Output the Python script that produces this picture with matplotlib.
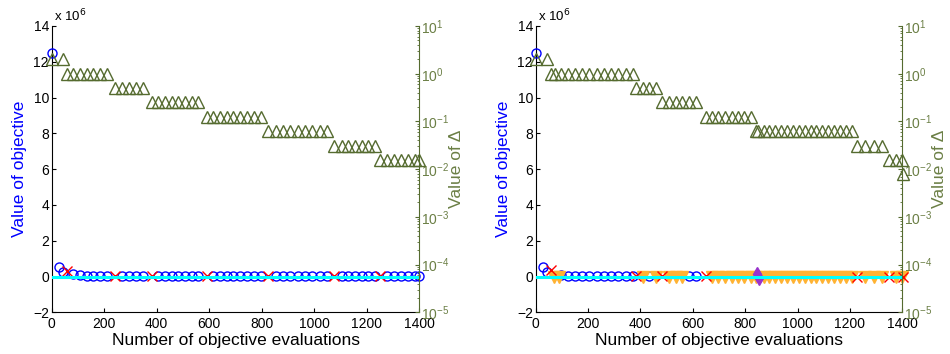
import matplotlib
matplotlib.use("Agg")
import matplotlib.pyplot as plt

plt.rcParams['font.family'] = ['Liberation Sans', 'DejaVu Sans']

# ---- data (objective values in units of 1e6) ----
# left panel
left_circ_x = [0, 28, 44, 82, 107, 133, 158, 184, 212, 269, 294, 320, 349, 406, 431, 457, 482, 508, 533, 558,
               615, 641, 666, 692, 717, 743, 770, 796, 853, 881, 909, 937, 965, 993, 1021, 1048,
               1104, 1129, 1155, 1180, 1206, 1231, 1277, 1303, 1330, 1356, 1382, 1400]
left_circ_y = [12.5, 0.55, 0.25, 0.12, 0.08, 0.05, 0.04, 0.04, 0.03, 0.03, 0.03, 0.03, 0.03, 0.03, 0.03, 0.02, 0.02, 0.02, 0.02, 0.02,
               0.02, 0.02, 0.02, 0.02, 0.02, 0.02, 0.02, 0.02, 0.02, 0.02, 0.02, 0.02, 0.02, 0.02, 0.02, 0.02,
               0.01, 0.01, 0.01, 0.01, 0.01, 0.01, 0.01, 0.01, 0.01, 0.01, 0.01, 0.01]
left_fail_x = [60, 241, 381, 590, 825, 1076, 1250]
left_fail_y = [0.3, 0.03, 0.03, 0.02, 0.02, 0.01, 0.01]
left_delta_x = [0, 44,
                60, 82, 107, 133, 158, 184, 212,
                241, 269, 294, 320, 349,
                381, 406, 431, 457, 482, 508, 533, 558,
                590, 615, 641, 666, 692, 717, 743, 770, 796,
                825, 853, 881, 909, 937, 965, 993, 1021, 1048,
                1076, 1104, 1129, 1155, 1180, 1206, 1231,
                1250, 1277, 1303, 1330, 1356, 1382, 1400]
left_delta_v = [2, 2,
                1, 1, 1, 1, 1, 1, 1,
                0.5, 0.5, 0.5, 0.5, 0.5,
                0.25, 0.25, 0.25, 0.25, 0.25, 0.25, 0.25, 0.25,
                0.125, 0.125, 0.125, 0.125, 0.125, 0.125, 0.125, 0.125, 0.125,
                0.0625, 0.0625, 0.0625, 0.0625, 0.0625, 0.0625, 0.0625, 0.0625, 0.0625,
                0.03125, 0.03125, 0.03125, 0.03125, 0.03125, 0.03125, 0.03125,
                0.015625, 0.015625, 0.015625, 0.015625, 0.015625, 0.015625, 0.015625]

# right panel
right_circ_x = [0, 29, 42, 97, 125, 150, 178, 205, 233, 261, 288, 316, 344, 373, 432, 585, 613]
right_circ_y = [12.5, 0.55, 0.25, 0.1, 0.05, 0.04, 0.04, 0.03, 0.03, 0.03, 0.03, 0.03, 0.03, 0.03, 0.02, 0.02, 0.02]
right_fail_x = [58, 384, 484, 650, 1226, 1351, 1402]
right_fail_y = [0.35, 0.02, 0.02, 0.01, 0.0, 0.0, 0.0]
right_srch_x = [70, 90, 409, 460, 509, 535, 558, 672, 697, 723, 748, 774, 797, 822, 840, 870, 892, 915,
                937, 960, 982, 1005, 1027, 1050, 1072, 1095, 1117, 1140, 1162, 1185, 1207, 1258, 1290,
                1322, 1376, 1400]
right_srch_y = [0.0, -0.05, -0.05, -0.05, -0.05, -0.05, -0.05, -0.05, -0.05, -0.05, -0.05, -0.05, -0.05, -0.05,
                -0.05, -0.05, -0.05, -0.05, -0.05, -0.05, -0.05, -0.05, -0.05, -0.05, -0.05, -0.05, -0.05,
                -0.05, -0.05, -0.05, -0.05, -0.05, -0.05, -0.05, -0.05, -0.05]
right_diam_x = [846, 852]
right_diam_y = [0.15, -0.1]
right_delta_x = [0, 42,
                 58, 75, 97, 125, 150, 178, 205, 233, 261, 288, 316, 344, 373,
                 384, 409, 432, 460,
                 484, 509, 535, 558, 585, 613,
                 650, 672, 697, 723, 748, 774, 797, 822,
                 840, 850, 870, 892, 915, 937, 960, 982, 1005, 1027, 1050, 1072, 1095, 1117, 1140, 1162, 1185, 1207,
                 1226, 1258, 1290, 1322,
                 1351, 1376, 1400,
                 1402]
right_delta_v = [2, 2,
                 1, 1, 1, 1, 1, 1, 1, 1, 1, 1, 1, 1, 1,
                 0.5, 0.5, 0.5, 0.5,
                 0.25, 0.25, 0.25, 0.25, 0.25, 0.25,
                 0.125, 0.125, 0.125, 0.125, 0.125, 0.125, 0.125, 0.125,
                 0.0625, 0.0625, 0.0625, 0.0625, 0.0625, 0.0625, 0.0625, 0.0625, 0.0625, 0.0625, 0.0625, 0.0625,
                 0.0625, 0.0625, 0.0625, 0.0625, 0.0625, 0.0625,
                 0.03125, 0.03125, 0.03125, 0.03125,
                 0.015625, 0.015625, 0.015625,
                 0.0078125]

ref_line = [0, 1400]
ref_val = [0, 0]

olive = '#556B2F'
olive_txt = '#6B7F45'

fig = plt.figure(figsize=(9.5, 3.54), dpi=100)
axes_pos = [[0.0544, 0.1178, 0.387, 0.8088], [0.5639, 0.1178, 0.3859, 0.8088]]


def make_panel(pos, circ_x, circ_y, fail_x, fail_y, dx, dv, srch=None, diam=None):
    ax = fig.add_axes(pos)
    ax.plot(circ_x, circ_y, 'o', mfc='none', mec='blue', ms=6.5, mew=1, clip_on=False, zorder=3)
    if srch is not None:
        ax.plot(srch[0], srch[1], 'v', mfc='#FFB333', mec='#FFB333', ms=8, clip_on=False, zorder=3)
    ax.plot(fail_x, fail_y, 'x', color='red', ms=7, mew=1, clip_on=False, zorder=4)
    if diam is not None:
        ax.plot(diam[0], diam[1], 'd', mfc='#9933CC', mec='#9933CC', ms=7, clip_on=False, zorder=4)
    ax.plot(ref_line, ref_val, color='cyan', lw=2.2, zorder=5)
    ax.set_xlim(0, 1400)
    ax.set_ylim(-2, 14)
    ax.set_xticks(range(0, 1401, 200))
    ax.set_yticks(range(-2, 15, 2))
    ax.tick_params(direction='in', length=3, labelsize=10, right=False, top=False, pad=2)
    ax.tick_params(axis='x', pad=3.5)
    ax.spines['top'].set_visible(False)
    ax.spines['right'].set_visible(False)
    ax.set_xlabel('Number of objective evaluations', fontsize=12.5, labelpad=1)
    ax.set_ylabel('Value of objective', fontsize=12.5, color='blue', labelpad=4)
    ax.text(0.005, 1.005, r'x 10$^{6}$', transform=ax.transAxes, fontsize=9.5, va='bottom', ha='left')

    ax2 = ax.twinx()
    ax2.plot(dx, dv, '^', mfc='none', mec=olive, ms=8.5, mew=1, clip_on=False)
    ax2.set_yscale('log')
    ax2.set_ylim(1e-5, 1e1)
    ax2.set_xlim(0, 1400)
    for s in ['top', 'left', 'bottom']:
        ax2.spines[s].set_visible(False)
    ax2.spines['right'].set_color(olive)
    ax2.tick_params(axis='y', which='both', direction='in', colors=olive, labelcolor=olive_txt,
                    labelsize=10, pad=1)
    ax2.tick_params(axis='y', which='major', length=3)
    ax2.tick_params(axis='y', which='minor', length=1.5)
    ax2.set_ylabel('Value of Δ', fontsize=12.5, color=olive_txt, labelpad=0)
    return ax, ax2


make_panel(axes_pos[0], left_circ_x, left_circ_y, left_fail_x, left_fail_y, left_delta_x, left_delta_v)
make_panel(axes_pos[1], right_circ_x, right_circ_y, right_fail_x, right_fail_y, right_delta_x, right_delta_v,
           srch=(right_srch_x, right_srch_y), diam=(right_diam_x, right_diam_y))

fig.savefig('out.png', dpi=100)
